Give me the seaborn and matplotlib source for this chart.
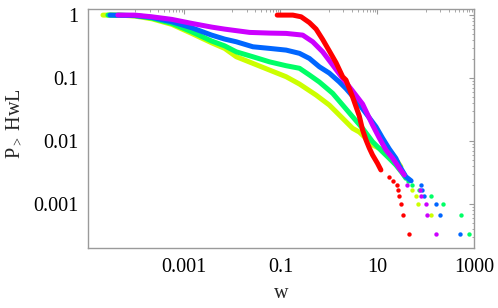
import matplotlib
matplotlib.use('Agg')
import matplotlib.pyplot as plt
import matplotlib.ticker as mticker
import seaborn as sns

# colours: Mathematica Hue[0.2 .. 1.0]
colors = ['#ccff00', '#00ff66', '#0066ff', '#cc00ff', '#ff0000']

# dense part of each CCDF (w, P>(w))
yellow_w = [2.14e-5, 4.79e-5, 9.77e-5, 2.19e-4, 5.66e-4, 1.46e-3, 3.78e-3, 7.0e-3, 0.0122, 0.0269,
            0.0593, 0.131, 0.247, 0.544, 1.02, 1.93, 3.10, 4.26, 5.85, 8.00, 11.0, 17.7, 26.2, 30.8]
yellow_p = [1.0, 1.0, 0.964, 0.873, 0.712, 0.512, 0.363, 0.296, 0.218, 0.171,
            0.134, 0.105, 0.0803, 0.0537, 0.0373, 0.0229, 0.0159, 0.0139, 0.0110, 0.00865, 0.00766, 0.0060, 0.00469, 0.00391]

green_w = [2.71e-5, 9.77e-5, 2.19e-4, 5.66e-4, 1.46e-3, 3.78e-3, 7.0e-3, 0.0122, 0.0269, 0.0593,
           0.131, 0.247, 0.396, 0.637, 1.20, 1.93, 3.10, 4.98, 8.00, 12.8, 17.7, 24.3, 33.3, 39.1]
green_p = [1.0, 0.982, 0.896, 0.739, 0.543, 0.387, 0.325, 0.261, 0.218, 0.181,
           0.157, 0.143, 0.112, 0.0865, 0.0572, 0.0373, 0.0243, 0.0159, 0.00975, 0.00676, 0.00531, 0.00416, 0.00307, 0.00256]

blue_w = [2.98e-5, 9.77e-5, 2.19e-4, 5.66e-4, 1.46e-3, 3.78e-3, 7.0e-3, 0.0122, 0.0269, 0.0593,
          0.131, 0.247, 0.396, 0.637, 1.02, 1.64, 2.26, 3.64, 5.85, 9.40, 12.8, 17.7, 24.3, 28.4, 39.1, 50.2]
blue_p = [1.0, 0.982, 0.919, 0.783, 0.629, 0.481, 0.416, 0.377, 0.314, 0.296,
          0.278, 0.247, 0.205, 0.151, 0.12, 0.087, 0.068, 0.0448, 0.0275, 0.0169, 0.0112, 0.0075, 0.00531, 0.0041, 0.00271, 0.00233]

purple_w = [4.35e-5, 9.77e-5, 2.19e-4, 5.66e-4, 1.46e-3, 3.78e-3, 7.0e-3, 0.023, 0.0593, 0.131,
            0.288, 0.464, 0.745, 1.20, 1.93, 3.10, 4.98, 6.84, 8.00, 11.0, 15.1, 20.7, 28.4, 36.1]
purple_p = [1.0, 1.0, 0.940, 0.855, 0.739, 0.645, 0.599, 0.531, 0.518, 0.512,
            0.481, 0.377, 0.261, 0.161, 0.0989, 0.0622, 0.0387, 0.0232, 0.0180, 0.0112, 0.0072, 0.00537, 0.00373, 0.00289]

red_w = [0.0855, 0.180, 0.267, 0.396, 0.544, 0.745, 1.02, 1.41, 1.93, 2.26,
         3.10, 4.26, 4.98, 5.85, 6.84, 8.00, 10.1, 11.9]
red_p = [1.0, 1.0, 0.94, 0.76, 0.60, 0.41, 0.27, 0.175, 0.105, 0.093,
         0.0499, 0.0249, 0.0150, 0.0104, 0.00775, 0.0060, 0.00443, 0.00347]

# sparse tail points
yellow_tw = [51.9, 64.6, 70.0, 132]
yellow_tp = [1.67e-3, 1.33e-3, 1.0e-3, 6.67e-4]
green_tw = [43.8, 51.9, 73.4, 132, 230, 540, 800]
green_tp = [2.33e-3, 2.0e-3, 1.67e-3, 1.33e-3, 1.0e-3, 6.67e-4, 3.33e-4]
blue_tw = [81.9, 83.5, 93.1, 162, 196, 507]
blue_tp = [2.0e-3, 1.67e-3, 1.33e-3, 1.0e-3, 6.67e-4, 3.33e-4]
purple_tw = [41.0, 77.1, 80.8, 101, 106, 167]
purple_tp = [2.0e-3, 1.67e-3, 1.33e-3, 1.0e-3, 6.67e-4, 3.33e-4]
red_tw = [17.7, 20.7, 26.2, 27.1, 28.4, 31.7, 33.9, 45.7]
red_tp = [2.67e-3, 2.33e-3, 2.0e-3, 1.67e-3, 1.33e-3, 1.0e-3, 6.67e-4, 3.33e-4]

x_ticks = [1e-3, 0.1, 10, 1000]
x_tick_labels = ['0.001', '0.1', '10', '1000']
y_ticks = [0.001, 0.01, 0.1, 1]
y_tick_labels = ['0.001', '0.01', '0.1', '1']

sns.set_theme(style='white')
plt.rcParams['font.family'] = ['Liberation Serif', 'DejaVu Serif']
plt.rcParams['mathtext.fontset'] = 'custom'
plt.rcParams['mathtext.rm'] = 'Liberation Serif'
plt.rcParams['mathtext.it'] = 'Liberation Serif:italic'

fig = plt.figure(figsize=(4.98, 3.08), dpi=100)
ax = fig.add_axes([88 / 498, 1 - 248 / 308, 386 / 498, 239 / 308])
ax.set_xscale('log')
ax.set_yscale('log')

curves = [(yellow_w, yellow_p, yellow_tw, yellow_tp),
          (green_w, green_p, green_tw, green_tp),
          (blue_w, blue_p, blue_tw, blue_tp),
          (purple_w, purple_p, purple_tw, purple_tp),
          (red_w, red_p, red_tw, red_tp)]

for (cw, cp, tw, tp), c in zip(curves, colors):
    sns.lineplot(x=cw, y=cp, color=c, lw=3.6, sort=False, estimator=None,
                 solid_capstyle='round', ax=ax)
    sns.scatterplot(x=tw, y=tp, color=c, s=10, linewidth=0, ax=ax)

ax.set_xlim(1.05e-5, 1000)
ax.set_ylim(2.0e-4, 1.25)

ax.xaxis.set_major_locator(mticker.FixedLocator(x_ticks))
ax.xaxis.set_major_formatter(mticker.FixedFormatter(x_tick_labels))
minor_x = [m * 10.0 ** k for k in (-4, -2, 0, 2) for m in range(1, 10) if m * 10.0 ** k not in x_ticks]
ax.xaxis.set_minor_locator(mticker.FixedLocator(minor_x))
ax.xaxis.set_minor_formatter(mticker.NullFormatter())

ax.yaxis.set_major_locator(mticker.FixedLocator(y_ticks))
ax.yaxis.set_major_formatter(mticker.FixedFormatter(y_tick_labels))
ax.yaxis.set_minor_locator(mticker.LogLocator(base=10, subs=range(2, 10)))
ax.yaxis.set_minor_formatter(mticker.NullFormatter())

gray = '#9a9a9a'
for s in ax.spines.values():
    s.set_color(gray)
    s.set_linewidth(1.0)
ax.tick_params(which='both', direction='in', top=True, right=True, color=gray,
               labelsize=14.5, labelcolor='black')
ax.tick_params(which='major', length=3.5, width=0.8)
ax.tick_params(which='minor', length=1.8, width=0.6)
ax.tick_params(axis='x', pad=7)
ax.tick_params(axis='y', pad=7)

fig.text(281 / 498, 1 - 294 / 308, 'w', ha='center', va='center', fontsize=14.5)
fig.text(15 / 498, 1 - 124 / 308, r'P$_{>}$ HwL', rotation=90, ha='center', va='center',
         fontsize=14.5)

fig.savefig('out.png', dpi=100)
